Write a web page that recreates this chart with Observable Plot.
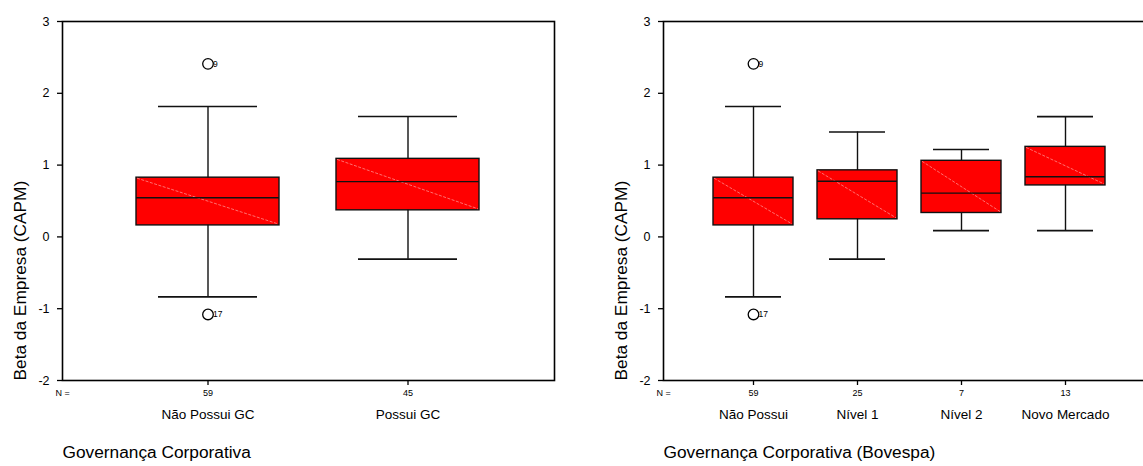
<!DOCTYPE html>
<html><head><meta charset="utf-8">
<script src="https://cdn.jsdelivr.net/npm/d3@7"></script>
<script src="https://cdn.jsdelivr.net/npm/@observablehq/plot@0.6"></script>
<style>
html,body{margin:0;padding:0;background:#fff;overflow:hidden;width:1143px;height:466px}
#wrap{position:relative;width:1143px;height:466px;overflow:hidden}
.panel{position:absolute;top:0;width:601px;height:466px}
</style></head><body><div id="wrap"><div class="panel" id="p1" style="left:0"></div><div class="panel" id="p2" style="left:601px"></div></div>
<script>
// ---- Panel 1: Governança Corporativa ----
const groupsGC = ["Não Possui GC", "Possui GC"];
const nGC = [59, 45];
const minGC = [-0.836, -0.31];
const q1GC = [0.16, 0.37];
const medGC = [0.546, 0.77];
const q3GC = [0.825, 1.087];
const maxGC = [1.817, 1.677];
const outGroupGC = ["Não Possui GC", "Não Possui GC"];
const outValGC = [2.41, -1.08];
const outLabelGC = ["9", "17"];

// ---- Panel 2: Governança Corporativa (Bovespa) ----
const groupsBov = ["Não Possui", "Nível 1", "Nível 2", "Novo Mercado"];
const nBov = [59, 25, 7, 13];
const minBov = [-0.836, -0.31, 0.087, 0.087];
const q1Bov = [0.16, 0.245, 0.333, 0.717];
const medBov = [0.546, 0.775, 0.61, 0.837];
const q3Bov = [0.825, 0.927, 1.06, 1.254];
const maxBov = [1.817, 1.462, 1.217, 1.675];
const outGroupBov = ["Não Possui", "Não Possui"];
const outValBov = [2.41, -1.08];
const outLabelBov = ["9", "17"];

const yTicks = [-2, -1, 0, 1, 2, 3];
const yTitle = "Beta da Empresa (CAPM)";
const nLabel = "N =";
const footerGC = "Governança Corporativa";
const footerBov = "Governança Corporativa (Bovespa)";

function panel(cfg) {
  const rows = cfg.groups.map((g, i) => ({g, n: cfg.n[i], min: cfg.min[i], q1: cfg.q1[i], med: cfg.med[i], q3: cfg.q3[i], max: cfg.max[i]}));
  const outs = cfg.outGroup.map((g, i) => ({g, v: cfg.outVal[i], label: cfg.outLabel[i]}));
  const stroke = "#111";
  const plot = Plot.plot({
    width: 601, height: 466,
    marginLeft: 62, marginRight: 47, marginTop: 21, marginBottom: 86,
    style: {fontFamily: "'Liberation Sans', Arial, sans-serif", background: "white", color: "black", maxWidth: "none", overflow: "visible"},
    x: {type: "band", domain: cfg.groups, paddingInner: cfg.pi, paddingOuter: cfg.po, align: 0.5},
    y: {domain: [-2, 3]},
    marks: [
      Plot.ruleX(rows, {x: "g", y1: "min", y2: "max", stroke, strokeWidth: 1.4}),
      Plot.tickY(rows, {x: "g", y: "min", insetLeft: cfg.cap, insetRight: cfg.cap, stroke, strokeWidth: 1.6}),
      Plot.tickY(rows, {x: "g", y: "max", insetLeft: cfg.cap, insetRight: cfg.cap, stroke, strokeWidth: 1.6}),
      Plot.barY(rows, {x: "g", y1: "q1", y2: "q3", fill: "#ff0000", stroke, strokeWidth: 1.4}),
      Plot.tickY(rows, {x: "g", y: "med", stroke, strokeWidth: 1.4}),
      Plot.dot(outs, {x: "g", y: "v", r: 5.3, stroke: "black", fill: "white", strokeWidth: 1.3}),
      Plot.text(outs, {x: "g", y: "v", text: "label", dx: 5, textAnchor: "start", fontSize: 8.5}),
      Plot.frame({stroke: "black", strokeWidth: 1.6}),
      Plot.axisY({ticks: yTicks, tickSize: 5, tickPadding: 8, fontSize: 12.5, label: null, tickFormat: d => String(d), strokeWidth: 1.3}),
      Plot.axisX({tickSize: 5, tickPadding: 4, fontSize: 9, label: null, tickFormat: d => String(cfg.n[cfg.groups.indexOf(d)]), strokeWidth: 1.3}),
      Plot.axisX({tickSize: 0, tickPadding: 28.5, fontSize: 13.5, label: null}),
      Plot.text([nLabel], {text: d => d, frameAnchor: "bottom-left", dx: -7, dy: 15.5, textAnchor: "start", lineAnchor: "bottom", fontSize: 9}),
      Plot.text([yTitle], {text: d => d, frameAnchor: "bottom-left", rotate: -90, textAnchor: "start", lineAnchor: "bottom", dx: -37, fontSize: 17.3}),
      Plot.text([cfg.footer], {text: d => d, frameAnchor: "bottom-left", textAnchor: "start", lineAnchor: "bottom", dy: 77, fontSize: 17.3})
    ]
  });
  // faint diagonal across each box (from the bar rects drawn by Plot)
  d3.select(plot).selectAll('g[aria-label="bar"] rect').each(function() {
    const r = d3.select(this);
    const x = +r.attr("x"), y = +r.attr("y"), w = +r.attr("width"), h = +r.attr("height");
    d3.select(this.parentNode).append("line")
      .attr("x1", x + 1).attr("y1", y + 1).attr("x2", x + w - 1).attr("y2", y + h - 1)
      .attr("stroke", "#ff8c8c").attr("stroke-width", 0.8).attr("stroke-dasharray", "3,1.5");
  });
  return plot;
}

document.getElementById("p1").append(panel({
  groups: groupsGC, n: nGC, min: minGC, q1: q1GC, med: medGC, q3: q3GC, max: maxGC,
  outGroup: outGroupGC, outVal: outValGC, outLabel: outLabelGC,
  pi: 0.284, po: 0.368, cap: 22, footer: footerGC
}));
document.getElementById("p2").append(panel({
  groups: groupsBov, n: nBov, min: minBov, q1: q1Bov, med: medBov, q3: q3Bov, max: maxBov,
  outGroup: outGroupBov, outVal: outValBov, outLabel: outLabelBov,
  pi: 0.235, po: 0.468, cap: 12, footer: footerBov
}));
</script></body></html>
